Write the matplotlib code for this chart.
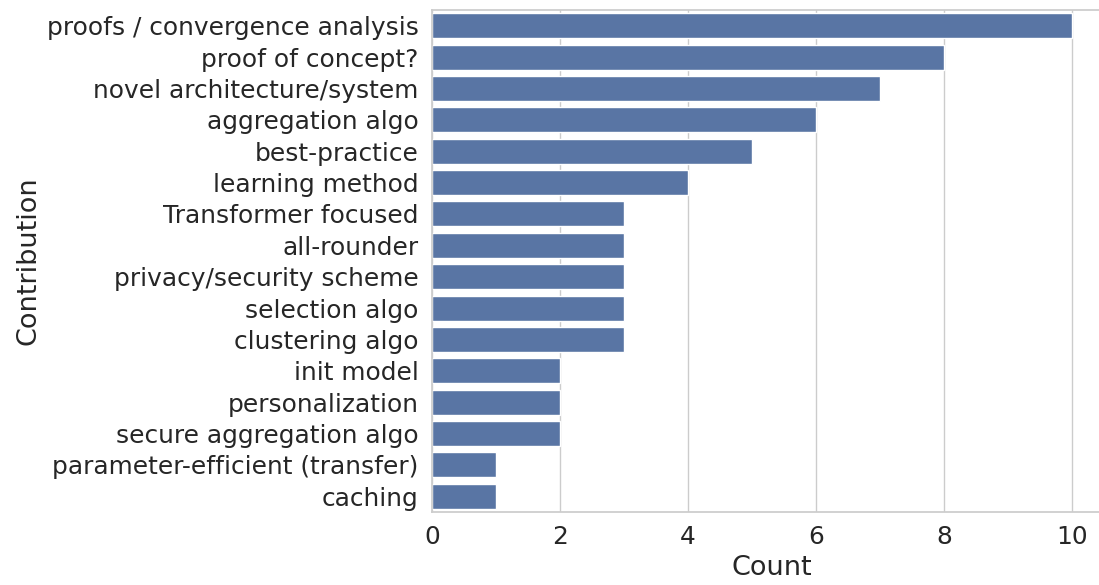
import matplotlib
matplotlib.use("Agg")
import matplotlib.pyplot as plt
import seaborn as sns
import pandas as pd

contributions = [
    "proofs / convergence analysis",
    "proof of concept?",
    "novel architecture/system",
    "aggregation algo",
    "best-practice",
    "learning method",
    "Transformer focused",
    "all-rounder",
    "privacy/security scheme",
    "selection algo",
    "clustering algo",
    "init model",
    "personalization",
    "secure aggregation algo",
    "parameter-efficient (transfer)",
    "caching",
]
counts = [10, 8, 7, 6, 5, 4, 3, 3, 3, 3, 3, 2, 2, 2, 1, 1]

df = pd.DataFrame({"Contribution": contributions, "Count": counts})

sns.set_theme(style="whitegrid", font_scale=1.63)

fig = plt.figure(figsize=(10.99, 5.85), dpi=100)
# right edge of the axes sits just past the canvas, so the right spine is cut off
ax = fig.add_axes([432 / 1099, 1 - 512 / 585, 680 / 1099, 502 / 585])
sns.barplot(data=df, x="Count", y="Contribution", ax=ax)
ax.set_xlim(0, 680 / 64)
ax.set_xticks([0, 2, 4, 6, 8, 10])

fig.savefig("out.png", dpi=100)
